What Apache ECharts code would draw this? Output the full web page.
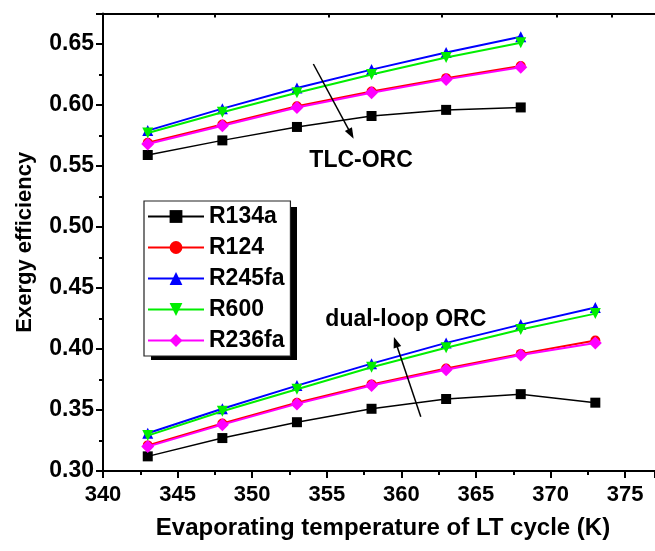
<!DOCTYPE html>
<html>
<head>
<meta charset="utf-8">
<script src="https://cdn.jsdelivr.net/npm/echarts@6/dist/echarts.min.js"></script>
<style>html,body{margin:0;padding:0;background:#fff}#c{width:655px;height:551px}</style>
</head>
<body>
<div id="c"></div>
<script>
// ---- data ----
var names = ['R134a', 'R124', 'R245fa', 'R600', 'R236fa'];
var xTLC = [343, 348, 353, 358, 363, 368];
var xDual = [343, 348, 353, 358, 363, 368, 373];

var tlc_R134a  = [0.559, 0.571, 0.582, 0.591, 0.596, 0.598];
var tlc_R124   = [0.569, 0.584, 0.599, 0.611, 0.622, 0.632];
var tlc_R245fa = [0.579, 0.597, 0.614, 0.629, 0.643, 0.656];
var tlc_R600   = [0.577, 0.594, 0.610, 0.625, 0.639, 0.651];
var tlc_R236fa = [0.568, 0.583, 0.598, 0.610, 0.621, 0.631];

var dual_R134a  = [0.312, 0.327, 0.340, 0.351, 0.359, 0.363, 0.356];
var dual_R124   = [0.321, 0.339, 0.356, 0.371, 0.384, 0.396, 0.407];
var dual_R245fa = [0.331, 0.351, 0.370, 0.388, 0.405, 0.420, 0.434];
var dual_R600   = [0.329, 0.349, 0.367, 0.385, 0.401, 0.416, 0.429];
var dual_R236fa = [0.320, 0.338, 0.355, 0.370, 0.383, 0.395, 0.405];

var topTickValues = [343.7, 347.5, 355.1, 362.7, 370.4, 374.1];

// annotations (data coordinates)
var arrowTLC  = [[354.1, 0.6336], [356.8, 0.5723]];
var arrowDual = [[361.3, 0.3444], [359.5, 0.4099]];
var labelTLC  = {text: 'TLC-ORC', x: 357.3, y: 0.5545};
var labelDual = {text: 'dual-loop ORC', x: 360.3, y: 0.4244};

// ---- styles ----
var colors = ['#000000', '#ff0000', '#0000ff', '#00ee00', '#ff00ff'];
var symbols = ['rect', 'circle', 'triangle', 'triangle', 'diamond'];
var rotates = [0, 0, 0, 180, 0];
var sizes = [10, 10, 11, 11, 13];
var widths = [1.5, 2, 2, 2, 2];
var FONT = '"Liberation Sans", Arial, sans-serif';

function pairs(xs, ys) { return xs.map(function (x, i) { return [x, ys[i]]; }); }

var tlcSets = [tlc_R134a, tlc_R124, tlc_R245fa, tlc_R600, tlc_R236fa];
var dualSets = [dual_R134a, dual_R124, dual_R245fa, dual_R600, dual_R236fa];

var series = [];
[[xTLC, tlcSets], [xDual, dualSets]].forEach(function (grp) {
  grp[1].forEach(function (ys, i) {
    series.push({
      name: names[i], type: 'line', data: pairs(grp[0], ys),
      symbol: symbols[i], symbolSize: sizes[i], symbolRotate: rotates[i],
      showAllSymbol: true,
      itemStyle: {color: colors[i]},
      lineStyle: {color: colors[i], width: widths[i]},
      z: 2 + i, animation: false
    });
  });
});

var chart = echarts.init(document.getElementById('c'), null, {renderer: 'canvas'});
var option = {
  backgroundColor: '#ffffff',
  animation: false,
  grid: {left: 103, top: 13.5, width: 561, height: 457.5, containLabel: false},
  legend: {
    data: names, orient: 'vertical', left: 144, top: 201,
    itemWidth: 56, itemHeight: 16, itemGap: 8,
    padding: [4, 6, 4, 3],
    backgroundColor: '#ffffff', borderColor: '#222', borderWidth: 1.2,
    textStyle: {fontSize: 23, fontWeight: 'bold', fontFamily: FONT, color: '#000', lineHeight: 22},
    selectedMode: false, z: 10
  },
  xAxis: [{
    type: 'value', min: 340, max: 377, interval: 5, position: 'bottom',
    name: 'Evaporating temperature of LT cycle (K)', nameLocation: 'middle', nameGap: 45,
    nameTextStyle: {fontSize: 24, fontWeight: 'bold', fontFamily: FONT, color: '#000', padding: [0, 0, 0, 8]},
    axisLine: {show: true, onZero: false, lineStyle: {color: '#000', width: 2}},
    axisTick: {show: true, inside: false, length: 7, lineStyle: {color: '#000', width: 2}},
    minorTick: {show: true, splitNumber: 2, length: 4, lineStyle: {color: '#000', width: 2}},
    axisLabel: {fontSize: 22, fontWeight: 'bold', fontFamily: FONT, color: '#000', margin: 13},
    splitLine: {show: false}
  }, {
    type: 'value', min: 340, max: 377, position: 'top',
    axisLine: {show: true, onZero: false, lineStyle: {color: '#000', width: 2}},
    axisTick: {show: true, inside: true, length: 4, customValues: topTickValues, lineStyle: {color: '#000', width: 2}},
    axisLabel: {show: false},
    splitLine: {show: false}
  }],
  yAxis: [{
    type: 'value', min: 0.30, max: 0.675, interval: 0.05,
    name: 'Exergy efficiency', nameLocation: 'middle', nameGap: 67,
    nameTextStyle: {fontSize: 22, fontWeight: 'bold', fontFamily: FONT, color: '#000'},
    axisLine: {show: true, onZero: false, lineStyle: {color: '#000', width: 2}},
    axisTick: {show: true, inside: false, length: 7, lineStyle: {color: '#000', width: 2}},
    minorTick: {show: true, splitNumber: 2, length: 4, lineStyle: {color: '#000', width: 2}},
    axisLabel: {fontSize: 23, fontWeight: 'bold', fontFamily: FONT, color: '#000', margin: 9,
      showMaxLabel: false,
      formatter: function (v) { return v.toFixed(2); }},
    splitLine: {show: false}
  }],
  series: series
};
chart.setOption(option);

function arrowEls(a) {
  var p0 = chart.convertToPixel({xAxisIndex: 0, yAxisIndex: 0}, a[0]);
  var p1 = chart.convertToPixel({xAxisIndex: 0, yAxisIndex: 0}, a[1]);
  var dx = p1[0] - p0[0], dy = p1[1] - p0[1];
  var len = Math.sqrt(dx * dx + dy * dy);
  var ux = dx / len, uy = dy / len;
  var hl = 11, hw = 4;
  var bx = p1[0] - ux * hl, by = p1[1] - uy * hl;
  return [{
    type: 'line', z: 100,
    shape: {x1: p0[0], y1: p0[1], x2: bx + ux * 2, y2: by + uy * 2},
    style: {stroke: '#000', lineWidth: 1.5}
  }, {
    type: 'polygon', z: 100,
    shape: {points: [[p1[0], p1[1]], [bx - uy * hw, by + ux * hw], [bx + uy * hw, by - ux * hw]]},
    style: {fill: '#000'}
  }];
}

function place() {
  var els = [labelTLC, labelDual].map(function (L) {
    var p = chart.convertToPixel({xAxisIndex: 0, yAxisIndex: 0}, [L.x, L.y]);
    return {
      type: 'text', x: p[0], y: p[1], z: 100,
      style: {text: L.text, fill: '#000', font: 'bold 23px ' + FONT, align: 'center', verticalAlign: 'middle'}
    };
  });
  els = els.concat(arrowEls(arrowTLC), arrowEls(arrowDual));
  // legend drop shadow
  els.push({type: 'rect', z: 1, silent: true,
    shape: {x: 151, y: 207, width: 146, height: 153},
    style: {fill: '#000'}});
  chart.setOption({graphic: els});
}
place();
</script>
</body>
</html>
